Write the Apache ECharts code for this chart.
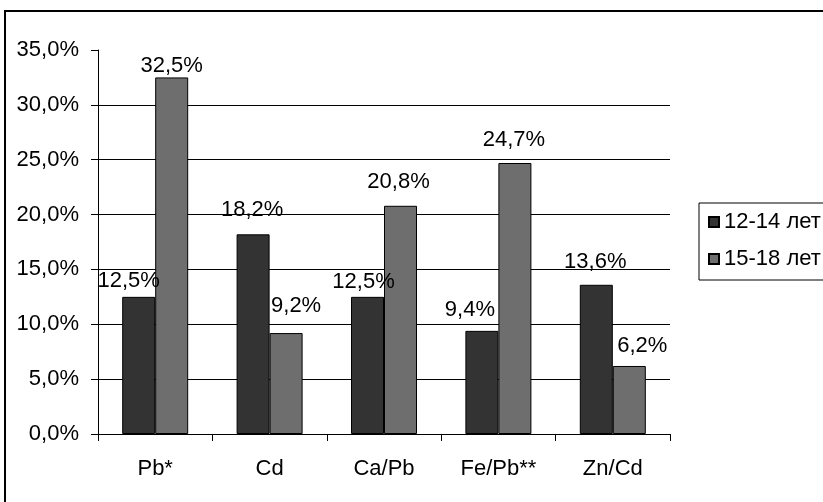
<!DOCTYPE html>
<html><head><meta charset="utf-8">
<script src="https://cdn.jsdelivr.net/npm/echarts@6/dist/echarts.min.js"></script>
<style>html,body{margin:0;padding:0;background:#fff}#c{width:823px;height:502px}</style>
</head><body><div id="c"></div>
<script>
var categories = ['Pb*', 'Cd', 'Ca/Pb', 'Fe/Pb**', 'Zn/Cd'];
var seriesNames = ['12-14 лет', '15-18 лет'];
var values1214 = [12.5, 18.2, 12.5, 9.4, 13.6];
var values1518 = [32.5, 9.2, 20.8, 24.7, 6.2];
var yTicks = [0, 5, 10, 15, 20, 25, 30, 35];

// label nudges (style only), as placed in the reference
var labelShift1214 = [[-10, -5], [-1, -13], [-4, -4], [-12, -10], [-1, -12]];
var labelShift1518 = [[0, 0], [10, -16], [-2, -13], [-1, -12], [13, -9]];

var FONT = 'Liberation Sans, Arial, sans-serif';
function fmt(v){ return v.toFixed(1).replace('.', ',') + '%'; }
function buildData(vals, shifts){
  return vals.map(function(v, i){
    return {value: v, label: {offset: shifts[i]}};
  });
}
var chart = echarts.init(document.getElementById('c'), null, {renderer:'canvas'});
var labelStyle = {show:true, position:'top', distance:0, color:'#000', fontFamily:FONT, fontSize:22,
  formatter:function(p){ return fmt(p.value); }};
chart.setOption({
  animation:false,
  backgroundColor:'#fff',
  graphic:[{type:'rect', shape:{x:5, y:11, width:900, height:600}, style:{fill:'none', stroke:'#000', lineWidth:2}, silent:true}],
  grid:{left:98, right:153, top:50, bottom:68},
  legend:{orient:'vertical', left:699, top:203, padding:[8,10,10,9], itemWidth:10, itemHeight:10, itemGap:15,
    borderColor:'#000', borderWidth:1, icon:'rect',
    textStyle:{fontFamily:FONT, fontSize:22, color:'#000'},
    data:seriesNames},
  xAxis:{type:'category', data:categories, boundaryGap:true,
    axisLine:{lineStyle:{color:'#000', width:1}},
    axisTick:{show:true, length:7, alignWithLabel:false, lineStyle:{color:'#000'}},
    axisLabel:{color:'#000', fontFamily:FONT, fontSize:22, margin:24}},
  yAxis:{type:'value', min:yTicks[0], max:yTicks[yTicks.length-1], interval:5,
    axisLine:{show:true, lineStyle:{color:'#000'}},
    axisTick:{show:true, length:7, lineStyle:{color:'#000'}},
    axisLabel:{color:'#000', fontFamily:FONT, fontSize:22, margin:19, formatter:function(v){return fmt(v);}},
    splitLine:{show:true, lineStyle:{color:['#000','#000','#000','#000','#000','#000','#000','rgba(0,0,0,0)'], width:1}}},
  series:[
    {name:seriesNames[0], type:'bar', data:buildData(values1214, labelShift1214), barWidth:33, barGap:'0%',
     itemStyle:{color:'#333333', borderColor:'#000', borderWidth:1}, label:labelStyle},
    {name:seriesNames[1], type:'bar', data:buildData(values1518, labelShift1518), barWidth:33, barGap:'0%',
     itemStyle:{color:'#6e6e6e', borderColor:'#000', borderWidth:1}, label:labelStyle}
  ]
});
</script></body></html>
